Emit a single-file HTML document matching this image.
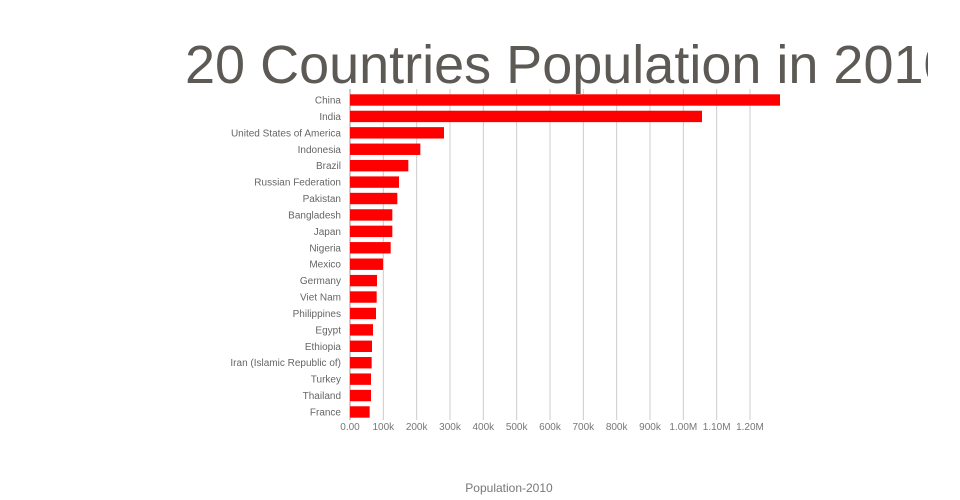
<!DOCTYPE html>
<html><head><meta charset="utf-8"><style>
html,body{margin:0;padding:0;background:#fff;width:960px;height:500px;overflow:hidden}
svg text{font-family:"Liberation Sans",sans-serif}
</style></head><body>
<svg width="960" height="500">
<defs><clipPath id="tc"><rect x="0" y="0" width="928" height="100"/></clipPath></defs>
<g id="grid"></g>
<g id="bars"></g>
<g id="ylab"></g>
<g id="xlab"></g>
<text x="185" y="83" font-size="54" fill="#5d5955" clip-path="url(#tc)">20 Countries Population in 2010</text>
<text x="509" y="492" font-size="12" fill="#777" text-anchor="middle">Population-2010</text>
</svg>
<script>
const categories=["China","India","United States of America","Indonesia","Brazil","Russian Federation","Pakistan","Bangladesh","Japan","Nigeria","Mexico","Germany","Viet Nam","Philippines","Egypt","Ethiopia","Iran (Islamic Republic of)","Turkey","Thailand","France"];
const values=[1290,1056,282,211,175,147,142,127,127,122,99,81,80,78,69,66,65,63,63,59];
const tickValues=[0,100,200,300,400,500,600,700,800,900,1000,1100,1200];
const tickLabels=["0.00","100k","200k","300k","400k","500k","600k","700k","800k","900k","1.00M","1.10M","1.20M"];
const NS="http://www.w3.org/2000/svg";
const x=v=>350+v*(400/1200);
const y=i=>100+i*16.42;
function mk(t,a,p){const e=document.createElementNS(NS,t);for(const k in a)e.setAttribute(k,a[k]);p.appendChild(e);return e;}
const G=document.getElementById('grid'),B=document.getElementById('bars'),YL=document.getElementById('ylab'),XL=document.getElementById('xlab');
tickValues.forEach((t,i)=>{
  const l=mk('line',{x1:x(t),x2:x(t),y1:89,y2:420,stroke:i==0?'#999':'#ccc','stroke-width':1},G);
  
  
  const tx=mk('text',{x:x(t),y:430,'font-size':10,fill:'#777','text-anchor':'middle'},XL);
  tx.textContent=tickLabels[i];
  
  
});
categories.forEach((c,i)=>{
  const r=mk('rect',{x:x(0),y:y(i)-5.7,width:x(values[i])-x(0),height:11.4,fill:'#ff0000'},B);
  
  
  const t=mk('text',{x:341,y:y(i)+3.5,'font-size':10,fill:'#666','text-anchor':'end'},YL);
  t.textContent=c;
  
  
});
</script>
</body></html>
